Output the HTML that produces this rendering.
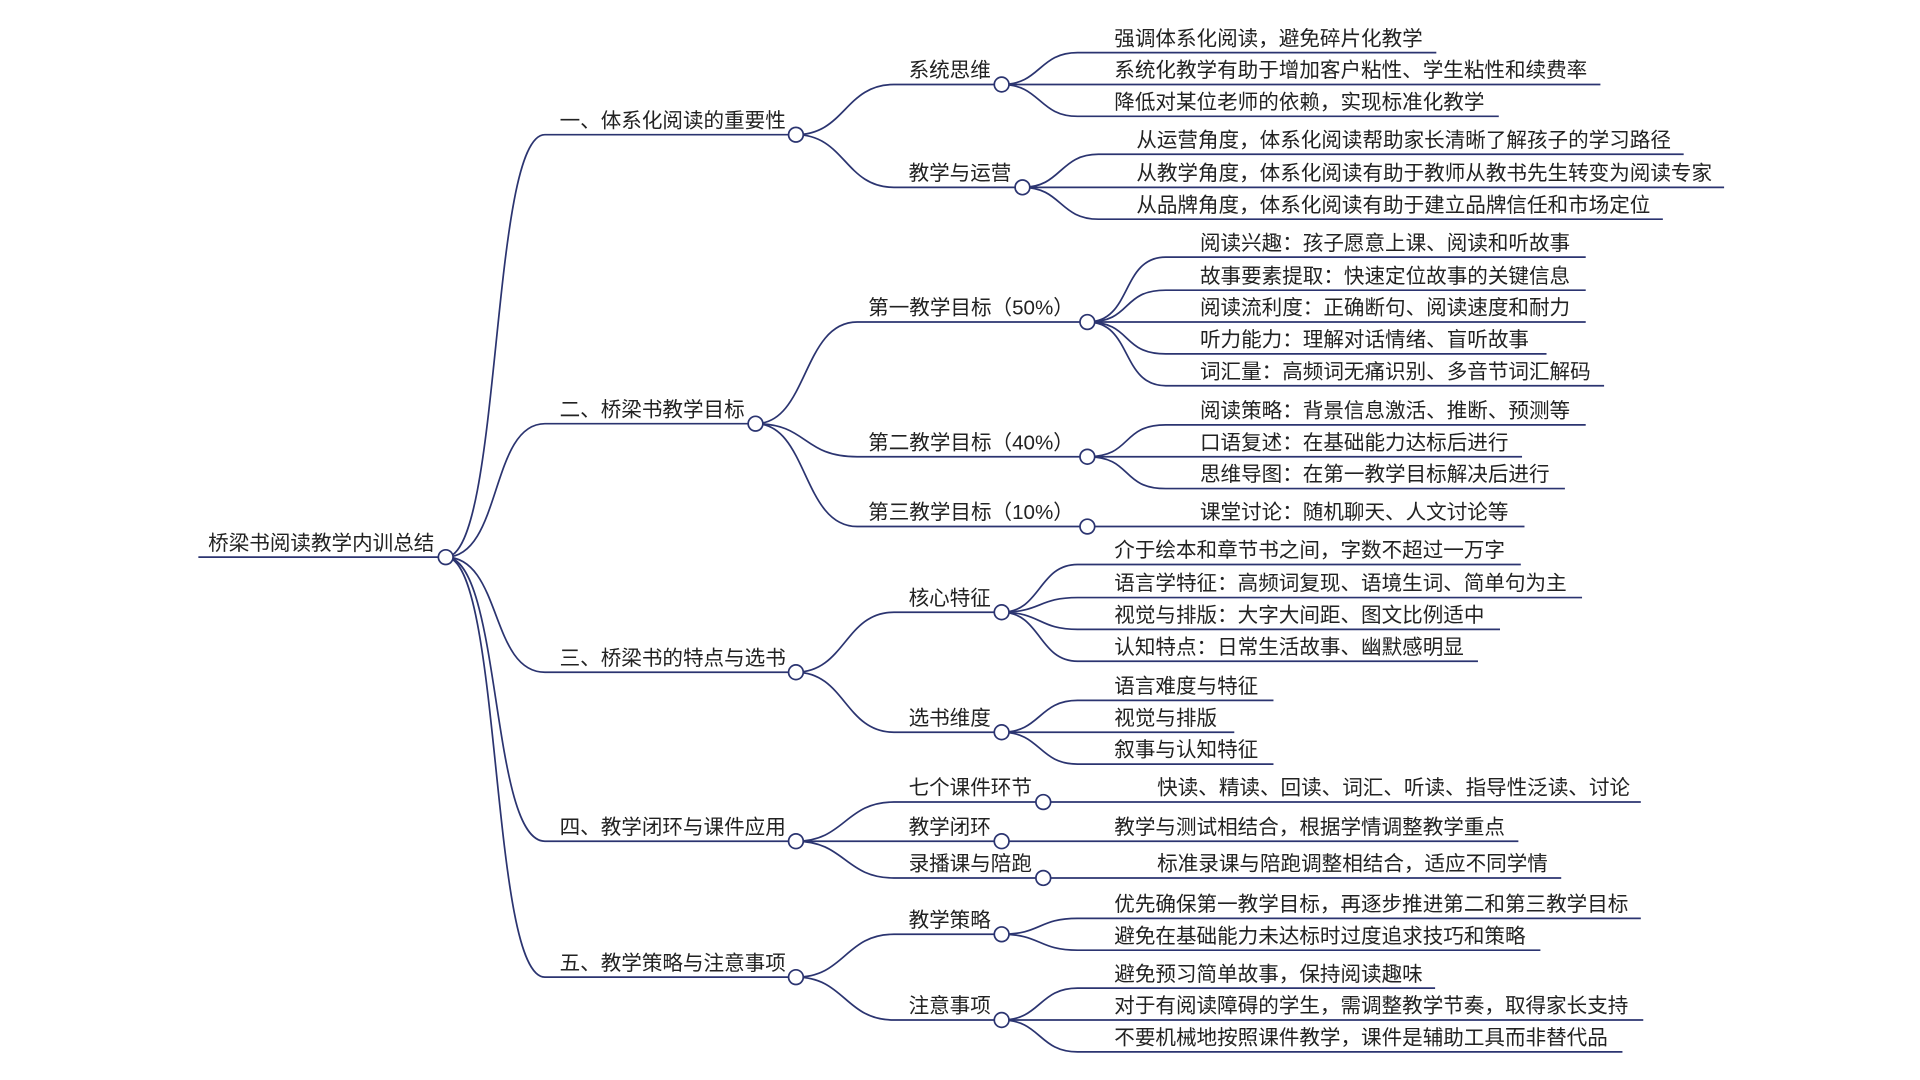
<!DOCTYPE html>
<html><head><meta charset="utf-8"><style>
html,body{margin:0;padding:0;background:#fff;width:1920px;height:1080px;overflow:hidden}
svg{display:block}
text{font-family:"Liberation Sans","Noto Sans CJK SC",sans-serif;font-size:16.8px;fill:#222}
path{fill:none;stroke:#2b3470;stroke-width:1.4}
circle{fill:#fff;stroke:#2b3470;stroke-width:1.4}
</style></head><body>
<svg width="1920" height="1080" viewBox="0 0 1568 882" xmlns="http://www.w3.org/2000/svg">
<path d="M162,455 L358,455"/>
<text x="170" y="449">桥梁书阅读教学内训总结</text>
<path d="M364,455 C410,455 400,110 445,110 L644,110"/>
<path d="M364,455 C410,455 400,346 445,346 L611,346"/>
<path d="M364,455 C410,455 400,549 445,549 L644,549"/>
<path d="M364,455 C410,455 400,687 445,687 L644,687"/>
<path d="M364,455 C410,455 400,798 445,798 L644,798"/>
<text x="457" y="104">一、体系化阅读的重要性</text>
<text x="457" y="340">二、桥梁书教学目标</text>
<text x="457" y="543">三、桥梁书的特点与选书</text>
<text x="457" y="681">四、教学闭环与课件应用</text>
<text x="457" y="792">五、教学策略与注意事项</text>
<path d="M650,110 C690,110 690,69 730,69 L812,69"/>
<path d="M650,110 C690,110 690,153 730,153 L829,153"/>
<path d="M617,346 C660,346 655,263 700,263 L882,263"/>
<path d="M617,346 C660,346 655,373 700,373 L882,373"/>
<path d="M617,346 C660,346 655,430 700,430 L882,430"/>
<path d="M650,549 C690,549 690,500 730,500 L812,500"/>
<path d="M650,549 C690,549 690,598 730,598 L812,598"/>
<path d="M650,687 C690,687 690,655 730,655 L846,655"/>
<path d="M650,687 L812,687"/>
<path d="M650,687 C690,687 690,717 730,717 L846,717"/>
<path d="M650,798 C690,798 690,763 730,763 L812,763"/>
<path d="M650,798 C690,798 690,833 730,833 L812,833"/>
<text x="742" y="63">系统思维</text>
<text x="742" y="147">教学与运营</text>
<text x="709" y="257">第一教学目标（50%）</text>
<text x="709" y="367">第二教学目标（40%）</text>
<text x="709" y="424">第三教学目标（10%）</text>
<text x="742" y="494">核心特征</text>
<text x="742" y="592">选书维度</text>
<text x="742" y="649">七个课件环节</text>
<text x="742" y="681">教学闭环</text>
<text x="742" y="711">录播课与陪跑</text>
<text x="742" y="757">教学策略</text>
<text x="742" y="827">注意事项</text>
<path d="M818,69 C850,69 848,43 880,43 L1173,43"/>
<path d="M818,69 L1307,69"/>
<path d="M818,69 C850,69 848,95 880,95 L1224,95"/>
<text x="910" y="37">强调体系化阅读，避免碎片化教学</text>
<text x="910" y="63">系统化教学有助于增加客户粘性、学生粘性和续费率</text>
<text x="910" y="89">降低对某位老师的依赖，实现标准化教学</text>
<path d="M835,153 C867,153 865,126 897,126 L1375,126"/>
<path d="M835,153 L1408,153"/>
<path d="M835,153 C867,153 865,179 897,179 L1358,179"/>
<text x="928" y="120">从运营角度，体系化阅读帮助家长清晰了解孩子的学习路径</text>
<text x="928" y="147">从教学角度，体系化阅读有助于教师从教书先生转变为阅读专家</text>
<text x="928" y="173">从品牌角度，体系化阅读有助于建立品牌信任和市场定位</text>
<path d="M888,263 C925,263 915,210 952,210 L1295,210"/>
<path d="M888,263 C925,263 915,237 952,237 L1295,237"/>
<path d="M888,263 L1295,263"/>
<path d="M888,263 C925,263 915,289 952,289 L1263,289"/>
<path d="M888,263 C925,263 915,315 952,315 L1310,315"/>
<text x="980" y="204">阅读兴趣：孩子愿意上课、阅读和听故事</text>
<text x="980" y="231">故事要素提取：快速定位故事的关键信息</text>
<text x="980" y="257">阅读流利度：正确断句、阅读速度和耐力</text>
<text x="980" y="283">听力能力：理解对话情绪、盲听故事</text>
<text x="980" y="309">词汇量：高频词无痛识别、多音节词汇解码</text>
<path d="M888,373 C925,373 915,347 952,347 L1295,347"/>
<path d="M888,373 L1243,373"/>
<path d="M888,373 C925,373 915,399 952,399 L1278,399"/>
<text x="980" y="341">阅读策略：背景信息激活、推断、预测等</text>
<text x="980" y="367">口语复述：在基础能力达标后进行</text>
<text x="980" y="393">思维导图：在第一教学目标解决后进行</text>
<path d="M888,430 L1245,430"/>
<text x="980" y="424">课堂讨论：随机聊天、人文讨论等</text>
<path d="M818,500 C850,500 848,461 880,461 L1242,461"/>
<path d="M818,500 C850,500 848,488 880,488 L1292,488"/>
<path d="M818,500 C850,500 848,514 880,514 L1225,514"/>
<path d="M818,500 C850,500 848,540 880,540 L1207,540"/>
<text x="910" y="455">介于绘本和章节书之间，字数不超过一万字</text>
<text x="910" y="482">语言学特征：高频词复现、语境生词、简单句为主</text>
<text x="910" y="508">视觉与排版：大字大间距、图文比例适中</text>
<text x="910" y="534">认知特点：日常生活故事、幽默感明显</text>
<path d="M818,598 C850,598 848,572 880,572 L1040,572"/>
<path d="M818,598 L1008,598"/>
<path d="M818,598 C850,598 848,624 880,624 L1040,624"/>
<text x="910" y="566">语言难度与特征</text>
<text x="910" y="592">视觉与排版</text>
<text x="910" y="618">叙事与认知特征</text>
<path d="M858,655 L1340,655"/>
<text x="945" y="649">快读、精读、回读、词汇、听读、指导性泛读、讨论</text>
<path d="M824,687 L1240,687"/>
<text x="910" y="681">教学与测试相结合，根据学情调整教学重点</text>
<path d="M858,717 L1275,717"/>
<text x="945" y="711">标准录课与陪跑调整相结合，适应不同学情</text>
<path d="M818,763 C850,763 848,750 880,750 L1340,750"/>
<path d="M818,763 C850,763 848,776 880,776 L1258,776"/>
<text x="910" y="744">优先确保第一教学目标，再逐步推进第二和第三教学目标</text>
<text x="910" y="770">避免在基础能力未达标时过度追求技巧和策略</text>
<path d="M818,833 C850,833 848,807 880,807 L1172,807"/>
<path d="M818,833 L1342,833"/>
<path d="M818,833 C850,833 848,859 880,859 L1325,859"/>
<text x="910" y="801">避免预习简单故事，保持阅读趣味</text>
<text x="910" y="827">对于有阅读障碍的学生，需调整教学节奏，取得家长支持</text>
<text x="910" y="853">不要机械地按照课件教学，课件是辅助工具而非替代品</text>
<circle cx="364" cy="455" r="6"/>
<circle cx="650" cy="110" r="6"/>
<circle cx="617" cy="346" r="6"/>
<circle cx="650" cy="549" r="6"/>
<circle cx="650" cy="687" r="6"/>
<circle cx="650" cy="798" r="6"/>
<circle cx="818" cy="69" r="6"/>
<circle cx="835" cy="153" r="6"/>
<circle cx="888" cy="263" r="6"/>
<circle cx="888" cy="373" r="6"/>
<circle cx="888" cy="430" r="6"/>
<circle cx="818" cy="500" r="6"/>
<circle cx="818" cy="598" r="6"/>
<circle cx="852" cy="655" r="6"/>
<circle cx="818" cy="687" r="6"/>
<circle cx="852" cy="717" r="6"/>
<circle cx="818" cy="763" r="6"/>
<circle cx="818" cy="833" r="6"/>
</svg>
</body></html>
